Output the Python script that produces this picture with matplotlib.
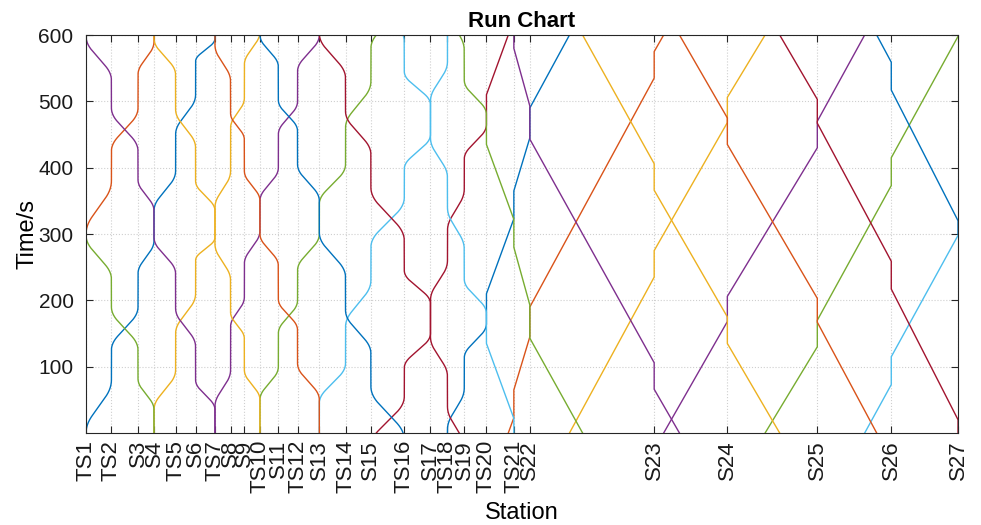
import numpy as np
import matplotlib.pyplot as plt

plt.rcParams['font.family'] = ['Liberation Sans', 'DejaVu Sans']

# stations along the line and their positions (km)
stations = ['TS1', 'TS2', 'S3', 'S4', 'TS5', 'S6', 'TS7', 'S8', 'S9', 'TS10',
            'S11', 'TS12', 'S13', 'TS14', 'S15', 'TS16', 'S17', 'TS18', 'S19',
            'TS20', 'TS21', 'S22', 'S23', 'S24', 'S25', 'S26', 'S27']
station_km = [0.00, 1.27, 2.60, 3.40, 4.48, 5.48, 6.45, 7.23, 7.92, 8.70,
              9.62, 10.58, 11.67, 12.98, 14.25, 15.92, 17.23, 18.08, 18.92,
              20.03, 21.40, 22.20, 28.42, 32.08, 36.58, 40.28, 43.62]

# up direction (TS1 -> S27): arrival / departure time at each station (s)
up_arrive = [0, 80, 190, 290, 395, 510, 595, 695, 805, 905,
             1000, 1100, 1200, 1305, 1430, 1555, 1650, 1760, 1868,
             1965, 2123, 2245, 2635, 2868, 3130, 3373, 3598]
up_depart = [0, 125, 240, 335, 450, 560, 640, 760, 855, 950,
             1050, 1145, 1245, 1360, 1480, 1598, 1700, 1805, 1913,
             2010, 2165, 2290, 2675, 2906, 3170, 3415, 3598]

# down direction (S27 -> TS1), same station order
down_arrive = [3598, 3490, 3382, 3295, 3188, 3080, 2985, 2882, 2795, 2700,
               2602, 2505, 2402, 2285, 2170, 2045, 1945, 1840, 1732,
               1635, 1480, 1343, 966, 735, 467, 217, 0]
down_depart = [3598, 3532, 3425, 3335, 3240, 3130, 3035, 2930, 2842, 2750,
               2652, 2555, 2450, 2335, 2220, 2090, 1995, 1885, 1777,
               1680, 1522, 1393, 1006, 775, 503, 259, 20]

# two trains each way, 300 s apart
up_offsets = [0, 300]
down_offsets = [0, 300]

# colour index of each 600 s window of every train
up_colors = [[0, 3, 5, 0, 2, 4], [1, 2, 4, 6, 1, 3, 5]]
down_colors = [[6, 2, 4, 6, 1, 3], [0, 1, 3, 5, 0, 2, 4]]

palette = ['#0072BD', '#D95319', '#EDB120', '#7E2F8E',
           '#77AC30', '#4DBEEE', '#A2142F']

PERIOD = 600
LAST_CURVED = stations.index('TS20')


def run_profile(u, acc=0.33):
    # trapezoidal speed profile: accelerate, cruise, brake
    v = 1.0 / (1.0 - acc)
    return np.where(u < acc, v * u ** 2 / (2 * acc),
                    np.where(u > 1 - acc, 1 - v * (1 - u) ** 2 / (2 * acc),
                             v * (acc / 2 + u - acc)))


def trajectory(order, arrive, depart, offset):
    ts, xs = [], []
    for k, s in enumerate(order):
        ts.append(arrive[s]); xs.append(station_km[s])
        if depart[s] > arrive[s]:
            ts.append(depart[s]); xs.append(station_km[s])
        if k + 1 < len(order):
            n = order[k + 1]
            u = np.linspace(0, 1, 80)[1:-1]
            curved = max(s, n) <= LAST_CURVED
            f = run_profile(u) if curved else u
            ts.extend(depart[s] + u * (arrive[n] - depart[s]))
            xs.extend(station_km[s] + (station_km[n] - station_km[s]) * f)
    return np.array(ts) + offset, np.array(xs)


def draw_train(ax, t, x, colors):
    w0 = int(t[0] // PERIOD)
    for w in range(w0, int(np.ceil(t[-1] / PERIOD))):
        lo = max(w * PERIOD, t[0])
        hi = min((w + 1) * PERIOD, t[-1])
        if hi - lo < 1:
            continue
        inner = (t > lo) & (t < hi)
        tt = np.concatenate([[lo], t[inner], [hi]])
        xx = np.interp(tt, t, x)
        ax.plot(xx, tt - w * PERIOD, color=palette[colors[w]], lw=1.0)


fig = plt.figure(figsize=(9.81, 5.25), dpi=100)
ax = fig.add_axes([0.0877, 0.1752, 0.8889, 0.7581])

up_order = list(range(len(stations)))
down_order = up_order[::-1]
for off, cols in zip(up_offsets, up_colors):
    t, x = trajectory(up_order, up_arrive, up_depart, off)
    draw_train(ax, t, x, cols)
for off, cols in zip(down_offsets, down_colors):
    t, x = trajectory(down_order, down_arrive, down_depart, off)
    draw_train(ax, t, x, cols)

ax.set_xlim(station_km[0], station_km[-1])
ax.set_ylim(0, 600)
ax.set_xticks(station_km)
ax.set_xticklabels(stations, rotation=90, fontsize=16)
ax.set_yticks([100, 200, 300, 400, 500, 600])
ax.tick_params(axis='y', labelsize=15, pad=9)
ax.tick_params(axis='x', pad=5)
ax.tick_params(direction='in', top=True, right=True, length=5, width=0.8,
               color='#262626', labelcolor='#1a1a1a')
ax.grid(True, color='#cfcfcf', linestyle=':', linewidth=0.8)
for sp in ax.spines.values():
    sp.set_color('#262626')
    sp.set_linewidth(0.8)

ax.set_title('Run Chart', fontsize=16, fontweight='bold', pad=6)
ax.set_xlabel('Station', fontsize=17, labelpad=6)
ax.set_ylabel('Time/s', fontsize=17, labelpad=0)

fig.savefig('out.png', dpi=100)
